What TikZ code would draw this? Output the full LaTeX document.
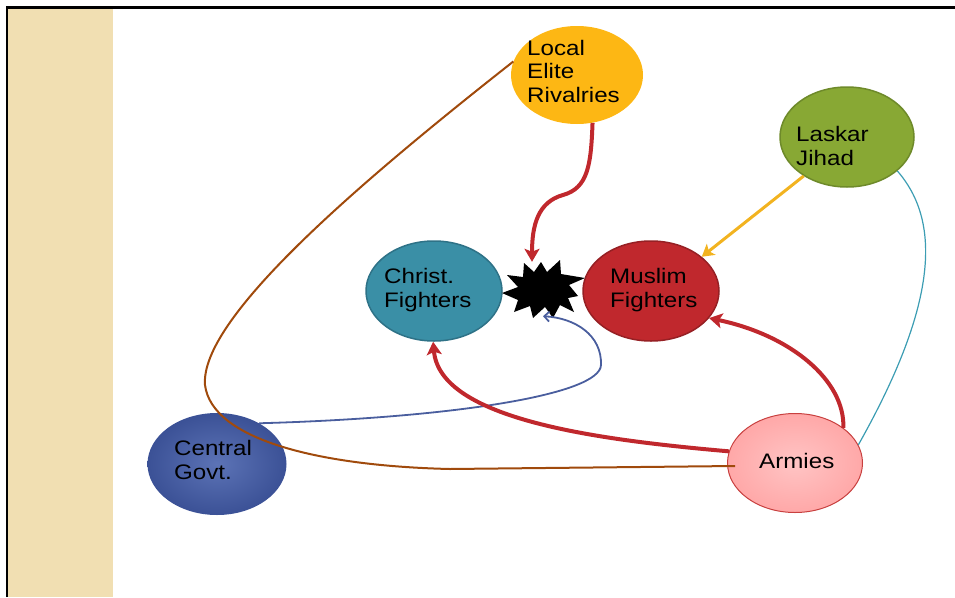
\documentclass[tikz,border=0pt]{standalone}
\usepackage{fontspec}
\setmainfont{Liberation Sans}[FakeStretch=1.15]
\usetikzlibrary{shapes.geometric,arrows.meta}
\definecolor{stripC}{HTML}{F1DFB2}
\definecolor{lerC}{HTML}{FDB714}
\definecolor{ljC}{HTML}{88A834}
\definecolor{ljB}{HTML}{6E8A2A}
\definecolor{cfC}{HTML}{3A8FA6}
\definecolor{cfB}{HTML}{2E7287}
\definecolor{mfC}{HTML}{C0282D}
\definecolor{mfB}{HTML}{962024}
\definecolor{cgIn}{HTML}{5C73B6}
\definecolor{cgOut}{HTML}{3B5196}
\definecolor{arIn}{HTML}{FFC4C4}
\definecolor{arOut}{HTML}{FFA8A8}
\definecolor{arB}{HTML}{C8403F}
\definecolor{redL}{HTML}{C0282D}
\definecolor{orangeL}{HTML}{F2B320}
\definecolor{blueL}{HTML}{4A5E9E}
\definecolor{brownL}{HTML}{A04A0C}
\definecolor{tealL}{HTML}{3C9DB3}
\tikzset{
  blob/.style={ellipse, inner sep=0pt, minimum width=136pt, minimum height=100pt},
  txt/.style={anchor=west, align=left, inner sep=0pt, font=\fontsize{21}{23.5}\selectfont},
  redarrow/.style={draw=redL, line width=4pt, -{Stealth[length=13pt,width=15pt,inset=3pt]}},
}
\begin{document}
\begin{tikzpicture}[x=1pt,y=-1pt]
\useasboundingbox (0,0) rectangle (955,597);
% frame and strip
\fill[stripC] (8,9) rectangle (113,597);
\draw[line width=2.5pt] (7,597) -- (7,7.5) -- (955,7.5);
% ellipses
\node[blob, minimum width=132pt, minimum height=98pt, fill=lerC] (ler) at (577,75) {};
\node[blob, minimum width=134pt, minimum height=100pt, fill=ljC, draw=ljB, line width=1.5pt] (lj) at (847,137) {};
\node[blob, fill=cfC, draw=cfB, line width=1.5pt] (cf) at (434,291) {};
\node[blob, fill=mfC, draw=mfB, line width=1.5pt] (mf) at (651,291) {};
\node[blob, minimum width=139pt, minimum height=102pt, inner color=cgIn, outer color=cgOut] (cg) at (217,464) {};
\node[blob, minimum width=135pt, minimum height=99pt, inner color=arIn, outer color=arOut, draw=arB, line width=1pt] (arm) at (795,463) {};
% explosion
\node[inner sep=0pt, minimum width=83pt, minimum height=56pt] (boom) at (543,290) {};
\fill[black] (502,293) -- (518,287) -- (507,275) -- (523,277) -- (524,263) -- (534,272)
  -- (541,262) -- (547,272) -- (560,260) -- (561,274) -- (585,278) -- (569,285)
  -- (578,296) -- (568,298) -- (574,312) -- (560,305) -- (553,318) -- (545,307)
  -- (533,318) -- (530,306) -- (514,312) -- (518,300) -- cycle;
% connectors
\draw[brownL, line width=2pt] ([xshift=8pt,yshift=-3pt]arm.west) -- (450,469)
  .. controls (320,466) and (212,440) .. (205,385)
  .. controls (200,320) and (350,190) .. (ler.168);
\draw[tealL, line width=1.2pt] (lj.-34) .. controls (940,220) and (940,300) .. (arm.16);
\draw[blueL, line width=1.8pt, -{Straight Barb[length=5pt,width=10pt]}] (cg.44)
  .. controls (450,418) and (600,395) .. (601,365)
  .. controls (602,335) and (575,318) .. ([yshift=2pt]boom.south);
\draw[redarrow] (ler.-72) .. controls (591,165) and (588,188) .. (563,195)
  .. controls (538,202) and (532,225) .. ([xshift=-11pt]boom.north);
\draw[draw=orangeL, line width=3pt, -{Stealth[length=12pt,width=14pt,inset=3pt]}] (lj.-138) -- (mf.34);
\draw[redarrow] (arm.36) .. controls (845,380) and (790,335) .. (mf.-25);
\draw[redarrow] (arm.170) .. controls (600,440) and (440,420) .. (cf.-91);
% texts
\node[txt] (lert) at (527,71) {Local\\Elite\\Rivalries};
\node[txt] (ljt) at (796,146) {Laskar\\Jihad};
\node[txt] (cft) at (384,290) {Christ.\\Fighters};
\node[txt] (mft) at (610,290) {Muslim\\Fighters};
\node[txt] (cgt) at (174,460) {Central\\Govt.};
\node[txt] (armt) at (759,461) {Armies};
\end{tikzpicture}
\end{document}
